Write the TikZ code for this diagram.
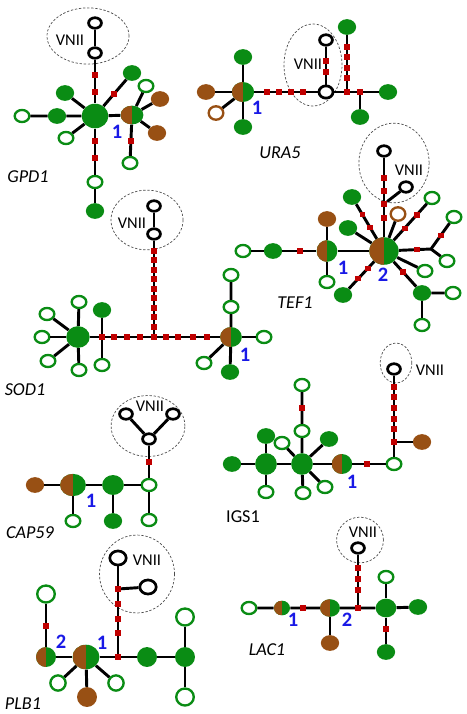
\documentclass[tikz,border=0pt]{standalone}
\usepackage{fontspec}
\setmainfont{Carlito}
\usepackage{tikz}
\usetikzlibrary{calc,shapes.geometric}
\definecolor{grn}{RGB}{10,140,20}
\definecolor{brn}{RGB}{152,80,20}
\definecolor{mutred}{RGB}{192,0,0}
\definecolor{numblue}{RGB}{25,25,230}

\begin{document}
\begin{tikzpicture}[x=0.03cm,y=-0.03cm,
        lnk/.style = {line width=2.5pt},
        nd/.style = {ellipse,inner sep=0pt},
        og/.style = {nd,draw=grn,fill=white,line width=2pt,minimum width=12.5pt,minimum height=10.3pt},
        ogL/.style = {og,minimum width=15pt,minimum height=14.5pt},
        ob/.style = {og,draw=brn,minimum height=11.5pt},
        fg/.style = {nd,fill=grn,minimum width=15.6pt,minimum height=13.4pt},
        br/.style = {fg,fill=brn},
        bc/.style = {fg,path picture={\fill[brn] (path picture bounding box.south west) rectangle (path picture bounding box.north);}},
        vn/.style = {nd,draw=black,fill=white,line width=2.3pt,minimum width=11pt,minimum height=9pt},
        mut/.style = {rectangle,fill=mutred,inner sep=0pt,minimum width=5pt,minimum height=4.5pt},
        grp/.style = {nd,draw=black!70,line width=0.6pt,dash pattern=on 2pt off 1.5pt},
        vnii/.style = {inner sep=0pt,font=\fontsize{14}{14}\selectfont},
        gene/.style = {inner sep=0pt,font=\fontsize{15.5}{15.5}\selectfont\itshape},
        num/.style = {inner sep=0pt,text=numblue,font=\fontsize{17.5}{17.5}\selectfont\bfseries}
        ]
        \useasboundingbox (0,0) rectangle (467,714);

        %GPD1
        \node[grp,minimum width=70pt,minimum height=48pt] (g1c) at (88,36) {};
        \node[vn] (g1a) at (95,23) {};
        \node[vn] (g1b) at (95,53) {};
        \node[fg,minimum width=22.8pt,minimum height=21pt] (g1h) at (95,116) {};
        \node[fg] (g1l) at (57,116) {};
        \node[og] (g1ll) at (22,116) {};
        \node[fg] (g1ul) at (65,93) {};
        \node[og] (g1dl) at (66,138) {};
        \node[fg] (g1ur) at (132,73) {};
        \node[bc,minimum width=19.5pt,minimum height=16pt] (g1x) at (132,115) {};
        \node[og] (g1xa) at (146,86) {};
        \node[br] (g1xb) at (160,99) {};
        \node[br] (g1xc) at (157,133) {};
        \node[og] (g1xd) at (130,163) {};
        \node[og] (g1d) at (95,182) {};
        \node[fg] (g1dd) at (95,211) {};
        \draw[lnk] (g1a) -- (g1b) -- (g1h) -- (g1d) -- (g1dd);
        \draw[lnk] (g1ll) -- (g1l) -- (g1h) -- (g1x);
        \draw[lnk] (g1ul) -- (g1h) -- (g1dl);
        \draw[lnk] (g1h) -- (g1ur);
        \foreach \n in {g1xa,g1xb,g1xc,g1xd} \draw[lnk] (g1x) -- (\n);
        \foreach \y [count=\i] in {75,92,141,158} \node[mut] (g1m\i) at (95,\y) {};
        \node[mut] (g1m5) at ($(g1h)!.51!(g1ur)$) {};
        \node[mut] (g1m6) at ($(g1x)!.54!(g1xd)$) {};
        \node[vnii] (g1v) at (70,40) {VNII};
        \node[num] (g1n) at (117,132) {1};
        \node[gene] (g1g) at (28,177) {GPD1};

        %URA5
        \node[grp,minimum width=49.5pt,minimum height=70pt] (u5c) at (313,65) {};
        \node[vn] (u5a) at (326,40) {};
        \node[vn,minimum width=12pt,minimum height=10.5pt] (u5k) at (326,92) {};
        \node[bc,minimum width=19pt,minimum height=17pt] (u5x) at (243,92) {};
        \node[br] (u5l) at (206,92) {};
        \node[ob] (u5ob) at (216,113) {};
        \node[fg] (u5u) at (243,57) {};
        \node[fg] (u5b) at (243,127) {};
        \node[mut] (u5j) at (347,92) {};
        \node[mut] (u5i) at (360,92) {};
        \node[fg] (u5g) at (347,27) {};
        \node[fg] (u5r) at (388,92) {};
        \node[fg] (u5d) at (360,117) {};
        \draw[lnk] (u5l) -- (u5x) -- (u5k) -- (u5j) -- (u5i) -- (u5r);
        \draw[lnk] (u5u) -- (u5x) -- (u5b);
        \draw[lnk] (u5x) -- (u5ob);
        \draw[lnk] (u5a) -- (u5k);
        \draw[lnk] (u5j) -- (u5g);
        \draw[lnk] (u5i) -- (u5d);
        \foreach \x [count=\i] in {267,279,291,303} \node[mut] (u5m\i) at (\x,92) {};
        \foreach \y [count=\i] in {61,72} \node[mut] (u5p\i) at (326,\y) {};
        \foreach \y [count=\i] in {47,57,68,78} \node[mut] (u5q\i) at (347,\y) {};
        \node[vnii] (u5v) at (308,64) {VNII};
        \node[num] (u5n) at (257,108) {1};
        \node[gene] (u5g2) at (280,153) {URA5};

        %TEF1
        \node[grp,minimum width=60pt,minimum height=68pt] (t1c) at (394,163) {};
        \node[vn] (t1a) at (384,151) {};
        \node[vn] (t1b) at (406,187) {};
        \node[mut] (t1j) at (384,204) {};
        \node[bc,minimum width=25pt,minimum height=23.5pt] (t1h) at (384,251) {};
        \node[bc,minimum width=17.7pt,minimum height=18.5pt] (t1x) at (327,251) {};
        \node[br] (t1xa) at (327,219) {};
        \node[og] (t1xb) at (327,282) {};
        \node[fg] (t1l) at (273,251) {};
        \node[og] (t1ll) at (243,251) {};
        \node[fg] (t1s1) at (352,197) {};
        \node[fg] (t1s2) at (348,228) {};
        \node[ob] (t1s3) at (398,214) {};
        \node[og] (t1s4) at (432,198) {};
        \coordinate (t1k) at (431,249);
        \node[og] (t1s5) at (454,217) {};
        \node[og] (t1s6) at (447,261) {};
        \node[og] (t1s7) at (425,271) {};
        \node[fg] (t1s8) at (422,293) {};
        \node[og] (t1s8a) at (453,293) {};
        \node[og] (t1s8b) at (422,325) {};
        \node[fg] (t1s9) at (343,295) {};
        \draw[lnk] (t1ll) -- (t1l) -- (t1x) -- (t1h) -- (t1j) -- (t1a);
        \draw[lnk] (t1xa) -- (t1x) -- (t1xb);
        \draw[lnk] (t1j) -- (t1b);
        \foreach \n in {t1s1,t1s2,t1s3,t1s4,t1s7,t1s9} \draw[lnk] (t1h) -- (\n);
        \draw[lnk] (t1h) -- (t1k) -- (t1s5);
        \draw[lnk] (t1k) -- (t1s6);
        \draw[lnk] (t1h) -- (t1s8) -- (t1s8a);
        \draw[lnk] (t1s8) -- (t1s8b);
        \foreach \y [count=\i] in {178,191,218} \node[mut] (t1m\i) at (384,\y) {};
        \node[mut] (t1m4) at (300,251) {};
        \foreach \n/\t [count=\i from 5] in {t1s1/.43,t1s1/.67,t1s4/.43,t1s4/.68,t1k/.7,t1s8/.5,t1s9/.39,t1s9/.63}
            \node[mut] (t1m\i) at ($(t1h)!\t!(\n)$) {};
        \node[mut] (t1m13) at ($(t1k)!.43!(t1s5)$) {};
        \node[vnii] (t1v) at (409,170) {VNII};
        \node[num] (t1n1) at (343,268) {1};
        \node[num] (t1n2) at (383,275) {2};
        \node[gene] (t1g) at (295,303) {TEF1};

        %SOD1
        \node[grp,minimum width=61.5pt,minimum height=51pt] (s1c) at (147,220) {};
        \node[vn] (s1a) at (154,206) {};
        \node[vn] (s1b) at (154,234) {};
        \node[fg,minimum width=20pt,minimum height=18.5pt] (s1h) at (78,337) {};
        \node[mut] (s1k) at (102,337) {};
        \node[mut] (s1j) at (154,337) {};
        \node[bc,minimum width=18.5pt,minimum height=17pt] (s1x) at (231,337) {};
        \node[fg] (s1u) at (102,310) {};
        \node[og] (s1d) at (102,365) {};
        \node[og] (s1s1) at (79,302) {};
        \node[og] (s1s2) at (79,370) {};
        \node[og] (s1s3) at (42,337) {};
        \node[og] (s1s4) at (47,314) {};
        \node[og] (s1s5) at (48,361) {};
        \node[og] (s1xa) at (231,307) {};
        \node[og] (s1xb) at (231,275) {};
        \node[og] (s1xc) at (264,337) {};
        \node[og] (s1xd) at (204,363) {};
        \node[fg] (s1xe) at (230,372) {};
        \draw[lnk] (s1a) -- (s1b) -- (s1j);
        \draw[lnk] (s1h) -- (s1k) -- (s1j) -- (s1x) -- (s1xc);
        \draw[lnk] (s1u) -- (s1k) -- (s1d);
        \foreach \n in {s1s1,s1s2,s1s3,s1s4,s1s5} \draw[lnk] (s1h) -- (\n);
        \draw[lnk] (s1xb) -- (s1xa) -- (s1x) -- (s1xe);
        \draw[lnk] (s1x) -- (s1xd);
        \foreach \y [count=\i] in {251,260,270,279,289,298,308,317,327} \node[mut] (s1m\i) at (154,\y) {};
        \foreach \x [count=\i from 10] in {114,127,140,166,178,193,207} \node[mut] (s1m\i) at (\x,337) {};
        \node[vnii] (s1v) at (132,223) {VNII};
        \node[num] (s1n) at (245,355) {1};
        \node[gene] (s1g) at (25,390) {SOD1};

        %CAP59
        \node[grp,minimum width=63pt,minimum height=52pt] (c5c) at (148,426) {};
        \node[vn] (c5a) at (126,414) {};
        \node[vn] (c5b) at (173,414) {};
        \node[vn] (c5k) at (149,439) {};
        \node[og] (c5o) at (149,485) {};
        \node[og] (c5od) at (149,520) {};
        \node[fg,minimum width=18.5pt,minimum height=17pt] (c5f) at (113,485) {};
        \node[fg] (c5fd) at (113,521) {};
        \node[bc,minimum width=22pt,minimum height=19pt] (c5x) at (73,485) {};
        \node[og] (c5xd) at (73,521) {};
        \node[br] (c5l) at (35,485) {};
        \draw[lnk] (c5a) -- (c5k) -- (c5b);
        \draw[lnk] (c5k) -- (c5o) -- (c5od);
        \draw[lnk] (c5l) -- (c5x) -- (c5f) -- (c5o);
        \draw[lnk] (c5x) -- (c5xd);
        \draw[lnk] (c5f) -- (c5fd);
        \node[mut] (c5m) at (149,462) {};
        \node[vnii] (c5v) at (150,406) {VNII};
        \node[num] (c5n) at (91,501) {1};
        \node[gene] (c5g) at (30,533) {CAP59};

        %IGS1
        \node[grp,minimum width=27pt,minimum height=34pt] (i1c) at (396,363) {};
        \node[vn] (i1a) at (394,369) {};
        \node[fg] (i1l) at (232,464) {};
        \node[fg,minimum width=18.5pt,minimum height=18.5pt] (i1h) at (266,464) {};
        \node[fg] (i1ha) at (266,436) {};
        \node[og] (i1hb) at (266,492) {};
        \node[fg,minimum width=18.5pt,minimum height=18.5pt] (i1k) at (302,464) {};
        \node[og] (i1ka) at (282,443) {};
        \node[og] (i1kb) at (302,431) {};
        \node[og] (i1kc) at (302,385) {};
        \node[fg] (i1kd) at (329,439) {};
        \node[og] (i1ke) at (325,487) {};
        \node[og] (i1kf) at (303,493) {};
        \node[bc,minimum width=17.5pt,minimum height=17pt] (i1x) at (342,464) {};
        \node[og] (i1o) at (394,464) {};
        \node[mut] (i1j) at (394,442) {};
        \node[br] (i1br) at (422,442) {};
        \draw[lnk] (i1l) -- (i1h) -- (i1k) -- (i1x) -- (i1o) -- (i1j) -- (i1a);
        \draw[lnk] (i1ha) -- (i1h) -- (i1hb);
        \draw[lnk] (i1kc) -- (i1kb) -- (i1k) -- (i1kf);
        \foreach \n in {i1ka,i1kd,i1ke} \draw[lnk] (i1k) -- (\n);
        \draw[lnk] (i1j) -- (i1br);
        \node[mut] (i1m1) at (302,408) {};
        \node[mut] (i1m2) at (367,464) {};
        \foreach \y [count=\i from 3] in {387,397,408,419,429} \node[mut] (i1m\i) at (394,\y) {};
        \node[vnii] (i1v) at (430,370) {VNII};
        \node[num] (i1n) at (352,482) {1};
        \node[gene,font=\fontsize{15.5}{15.5}\selectfont] (i1g) at (243,517) {IGS1};

        %PLB1
        \node[grp,minimum width=64pt,minimum height=66.5pt] (p1c) at (137,574) {};
        \node[vn,minimum width=14pt,minimum height=12pt] (p1a) at (118,558) {};
        \node[vn,minimum width=14pt,minimum height=12pt] (p1b) at (148,587) {};
        \node[mut] (p1k) at (118,589) {};
        \node[mut] (p1j) at (118,657) {};
        \node[bc,minimum width=23pt,minimum height=21pt] (p1x) at (86,657) {};
        \node[bc,minimum width=17pt,minimum height=17pt] (p1y) at (46,657) {};
        \node[ogL] (p1t) at (46,594) {};
        \node[og,minimum width=13pt,minimum height=13pt] (p1xa) at (58,683) {};
        \node[br,minimum width=17pt,minimum height=17pt] (p1xb) at (87,697) {};
        \node[og,minimum width=13pt,minimum height=13pt] (p1xc) at (116,683) {};
        \node[fg,minimum width=17pt,minimum height=17pt] (p1f) at (147,657) {};
        \node[fg,minimum width=17pt,minimum height=17pt] (p1g) at (185,657) {};
        \node[ogL] (p1ga) at (185,617) {};
        \node[ogL] (p1gb) at (185,697) {};
        \draw[lnk] (p1a) -- (p1k) -- (p1j);
        \draw[lnk] (p1k) -- (p1b);
        \draw[lnk] (p1t) -- (p1y) -- (p1x) -- (p1j) -- (p1f) -- (p1g);
        \draw[lnk] (p1ga) -- (p1g) -- (p1gb);
        \foreach \n in {p1xa,p1xb,p1xc} \draw[lnk] (p1x) -- (\n);
        \foreach \y [count=\i] in {604,619,633} \node[mut] (p1m\i) at (118,\y) {};
        \node[mut] (p1m4) at (46,626) {};
        \node[vnii] (p1v) at (147,560) {VNII};
        \node[num] (p1n2) at (61,642) {2};
        \node[num] (p1n1) at (102,643) {1};
        \node[gene] (p1g2) at (23,704) {PLB1};

        %LAC1
        \node[grp,minimum width=40pt,minimum height=39pt] (l1c) at (360,540) {};
        \node[vn] (l1a) at (358,548) {};
        \node[og] (l1o) at (249,608) {};
        \node[bc,minimum width=13.7pt,minimum height=12.5pt] (l1x) at (282,608) {};
        \node[bc,minimum width=17pt,minimum height=15pt] (l1y) at (330,608) {};
        \node[br] (l1yb) at (330,643) {};
        \node[mut] (l1j) at (358,608) {};
        \node[fg,minimum width=17.6pt,minimum height=16pt] (l1h) at (386,608) {};
        \node[og] (l1ha) at (386,577) {};
        \node[fg] (l1r) at (418,607) {};
        \node[fg] (l1hb) at (386,652) {};
        \draw[lnk] (l1o) -- (l1x) -- (l1y) -- (l1j) -- (l1h) -- (l1r);
        \draw[lnk] (l1y) -- (l1yb);
        \draw[lnk] (l1j) -- (l1a);
        \draw[lnk] (l1ha) -- (l1h) -- (l1hb);
        \node[mut] (l1m1) at (303,608) {};
        \foreach \y [count=\i from 2] in {568,579,590} \node[mut] (l1m\i) at (358,\y) {};
        \node[mut] (l1m5) at (386,629) {};
        \node[vnii] (l1v) at (363,532) {VNII};
        \node[num] (l1n1) at (293,620) {1};
        \node[num] (l1n2) at (347,620) {2};
        \node[gene] (l1g) at (267,650) {LAC1};

    \end{tikzpicture}
\end{document}
